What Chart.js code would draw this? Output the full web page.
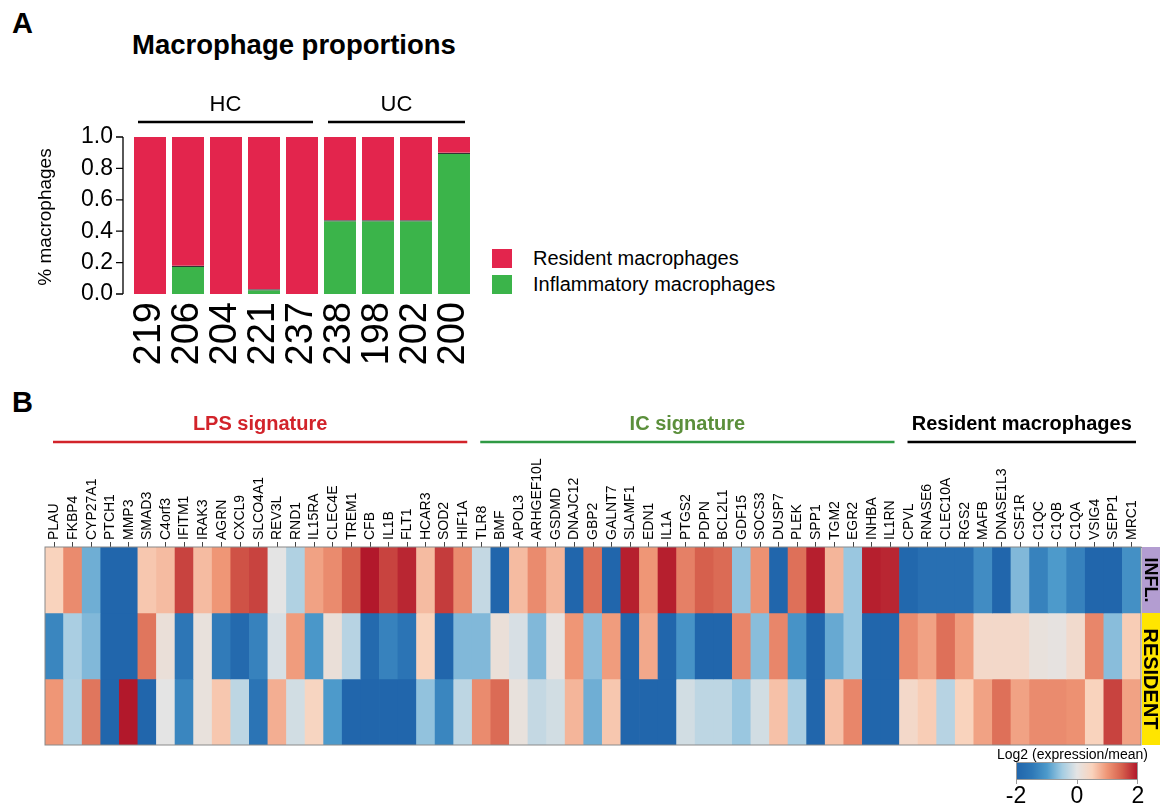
<!DOCTYPE html>
<html lang="en">
<head>
  <meta charset="UTF-8" />
  <title>Macrophage proportions and signature heatmap</title>
  <script src="https://cdn.jsdelivr.net/npm/chart.js"></script>
  <style>
    * { margin: 0; padding: 0; box-sizing: border-box; }
    body {
      width: 1160px;
      height: 806px;
      position: relative;
      overflow: hidden;
      background: #fff;
      color: #000;
      font-family: "Liberation Sans", Arial, sans-serif;
    }
    .abs { position: absolute; }
    .panel-letter { font-weight: bold; font-size: 29px; line-height: 1; }
    #titleA { left: 132px; top: 31px; font-size: 27.5px; font-weight: bold; line-height: 1; }
    #legendA { left: 492px; top: 245px; font-size: 20px; }
    .leg-item { display: flex; align-items: center; height: 26px; }
    .swatch { width: 20px; height: 19px; margin-right: 21px; }
    #cbLabel { left: 985px; top: 746px; width: 175px; text-align: center; font-size: 14px; }
    #colorbar { left: 1016px; top: 762px; width: 122px; height: 18px; border: 1px solid #999; }
    .cbtick { top: 784px; font-size: 23px; width: 40px; text-align: center; line-height: 1; }
    .cbmark { top: 780px; width: 1px; height: 4px; background: #999; }
  </style>
</head>
<body>
  <div class="abs panel-letter" style="left:12px; top:9px;">A</div>
  <div class="abs" id="titleA">Macrophage proportions</div>
  <canvas class="abs" id="barsA" width="480" height="380" style="left:0; top:0;"></canvas>
  <div class="abs" id="legendA"></div>

  <div class="abs panel-letter" style="left:12px; top:388px;">B</div>
  <canvas class="abs" id="heatmap" width="1160" height="372" style="left:0; top:380px;"></canvas>

  <div class="abs" id="cbLabel">Log2 (expression/mean)</div>
  <div class="abs" id="colorbar"></div>
  <div class="abs cbmark" style="left:1016px;"></div>
  <div class="abs cbmark" style="left:1077px;"></div>
  <div class="abs cbmark" style="left:1137px;"></div>
  <div class="abs cbtick" style="left:996px;">-2</div>
  <div class="abs cbtick" style="left:1057px;">0</div>
  <div class="abs cbtick" style="left:1118px;">2</div>

  <script>
    // ---- panel A data ----
    const samples = ['219', '206', '204', '221', '237', '238', '198', '202', '200'];
    const inflammatory = [0, 0.18, 0, 0.03, 0, 0.47, 0.47, 0.47, 0.9];
    const resident = [1, 0.82, 1, 0.97, 1, 0.53, 0.53, 0.53, 0.1];
    const yTickLabels = ['0.0', '0.2', '0.4', '0.6', '0.8', '1.0'];
    const sampleGroups = ['HC', 'UC'];
    const sampleGroupStart = [0, 5];
    const sampleGroupEnd = [4, 8];

    // ---- panel B data ----
    const genes = [
      'PLAU', 'FKBP4', 'CYP27A1', 'PTCH1', 'MMP3', 'SMAD3', 'C4orf3', 'IFITM1', 'IRAK3', 'AGRN', 'CXCL9', 'SLCO4A1',
      'REV3L', 'RND1', 'IL15RA', 'CLEC4E', 'TREM1', 'CFB', 'IL1B', 'FLT1', 'HCAR3', 'SOD2', 'HIF1A',
      'TLR8', 'BMF', 'APOL3', 'ARHGEF10L', 'GSDMD', 'DNAJC12', 'GBP2', 'GALNT7', 'SLAMF1', 'EDN1', 'IL1A', 'PTGS2',
      'PDPN', 'BCL2L1', 'GDF15', 'SOCS3', 'DUSP7', 'PLEK', 'SPP1', 'TGM2', 'EGR2', 'INHBA', 'IL1RN',
      'CPVL', 'RNASE6', 'CLEC10A', 'RGS2', 'MAFB', 'DNASE1L3', 'CSF1R', 'C1QC', 'C1QB', 'C1QA', 'VSIG4', 'SEPP1', 'MRC1'
    ];
    const inflRow = [
      0.5, 1.1, -0.8, -2, -2, 0.6, 0.7, 1.7, 0.7, 1.0, 1.6, 1.7, 0, -0.4, 0.9, 1.1, 1.5, 2, 1.7, 1.9, 0.7, 1.75, 1.1,
      -0.25, -2, 0.7, 1.1, 0.75, -2, 1.35, -2, 1.95, 1.0, 1.95, 1.2, 1.5, 1.4, -0.6, 1.05, -2, 1.35, 1.95, 0.75, -0.55, 1.95, 1.9,
      -1.95, -1.75, -1.75, -1.75, -1.2, -2, -0.7, -1.35, -1.0, -1.35, -2, -2, -1.15
    ];
    const residentRowA = [
      -1.3, -0.45, -0.7, -2, -2, 1.3, 0.15, -1.55, 0.1, -1.45, -1.9, -1.35, -0.1, 0.95, -1.05, 0.15, -0.35, -1.9, -1.35, -1.6, 0.5, -2, -0.7,
      -0.7, 0.15, -0.1, -0.7, 0.05, 1.0, -0.65, 0.95, -2, 0.85, -2, -1.1, -2, -2, 1.15, -0.65, 1.15, -1.1, -2, -0.85, -0.55, -2, -2,
      1.1, 0.9, 1.35, 0.95, 0.35, 0.35, 0.35, 0.1, 0.05, 0.3, 1.15, -0.65, 0.55
    ];
    const residentRowB = [
      1.0, -0.4, 1.3, -2, 2, -2, 0, -1.3, 0.1, 0.6, -0.3, -1.6, 0.8, -0.15, 0.45, -1.0, -2, -2, -2, -2, -0.6, -1.3, -0.3,
      1.1, 1.4, 0.1, -0.25, -0.15, 0.75, -0.8, 0.6, -2, -2, -2, -0.15, -0.3, -0.3, -0.55, -0.15, 0.65, -0.45, -2, 0.65, 1.15, -2, -2,
      0.35, 0.55, -0.35, 0.5, 0.9, 1.35, 0.9, 1.1, 1.1, 1.05, 0.5, 1.7, 0.9
    ];
    const geneGroups = ['LPS signature', 'IC signature', 'Resident macrophages'];
    const geneGroupStart = [0, 23, 46];
    const geneGroupEnd = [22, 45, 58];
    const geneGroupText = ['#d2232a', '#5b8f3b', '#000000'];
    const geneGroupLine = ['#d2232a', '#2f9a44', '#000000'];
    const rowGroups = ['INFL.', 'RESIDENT'];
    const rowGroupStart = [0, 1];
    const rowGroupEnd = [1, 3];
    const rowGroupColors = ['#b39dd1', '#ffe500'];

    // colour scale (-2 .. 2)
    const scaleValues = [-2, -1.5, -1, -0.5, 0, 0.5, 1, 1.5, 2];
    const scaleColours = ['#2166ac', '#2e78b7', '#4d9acb', '#a3cce2', '#e4e4e4', '#f9d3bd', '#ef9676', '#d6604d', '#b2182b'];

    const FONT = '"Liberation Sans", Arial, sans-serif';
    Chart.defaults.font.family = FONT;
    Chart.defaults.color = '#000';

    function hexToRgb(h) {
      const n = parseInt(h.slice(1), 16);
      return [(n >> 16) & 255, (n >> 8) & 255, n & 255];
    }

    function colourFor(v) {
      v = Math.max(-2, Math.min(2, v));
      let i = 0;
      while (i < scaleValues.length - 2 && v > scaleValues[i + 1]) i++;
      const t = (v - scaleValues[i]) / (scaleValues[i + 1] - scaleValues[i]);
      const a = hexToRgb(scaleColours[i]);
      const b = hexToRgb(scaleColours[i + 1]);
      const c = a.map((x, k) => Math.round(x + (b[k] - x) * t));
      return `rgb(${c[0]}, ${c[1]}, ${c[2]})`;
    }

    // legend + colour bar
    document.getElementById('legendA').innerHTML = `
      <div class="leg-item"><span class="swatch" style="background:#e3254d"></span>Resident macrophages</div>
      <div class="leg-item"><span class="swatch" style="background:#3bb44a"></span>Inflammatory macrophages</div>`;
    document.getElementById('colorbar').style.background =
      'linear-gradient(to right, ' +
      scaleColours.map((c, i) => `${c} ${(i / (scaleColours.length - 1)) * 100}%`).join(', ') + ')';

    // ---- panel A ----
    const panelAExtras = {
      id: 'panelAExtras',
      afterDraw(chart) {
        const { ctx, chartArea } = chart;
        const x = chart.scales.x;
        const y = chart.scales.y;
        ctx.save();
        // R-style y axis, set a little left of the bars
        const ax = chartArea.left - 8;
        ctx.strokeStyle = '#000';
        ctx.lineWidth = 1.3;
        ctx.beginPath();
        ctx.moveTo(ax, y.getPixelForValue(0));
        ctx.lineTo(ax, y.getPixelForValue(1));
        y.ticks.forEach((t) => {
          const py = y.getPixelForValue(t.value);
          ctx.moveTo(ax - 7, py);
          ctx.lineTo(ax, py);
        });
        ctx.stroke();

        // HC / UC brackets
        const pitch = x.getPixelForValue(1) - x.getPixelForValue(0);
        const half = pitch * 0.842 / 2;
        ctx.lineWidth = 2.5;
        ctx.font = '22px ' + FONT;
        ctx.textAlign = 'center';
        ctx.textBaseline = 'middle';
        ctx.fillStyle = '#000';
        sampleGroups.forEach((g, i) => {
          const x0 = x.getPixelForValue(sampleGroupStart[i]) - half + 4;
          const x1 = x.getPixelForValue(sampleGroupEnd[i]) + half - 5;
          ctx.beginPath();
          ctx.moveTo(x0, 122);
          ctx.lineTo(x1, 122);
          ctx.stroke();
          ctx.fillText(g, (x0 + x1) / 2, 105);
        });

        // y title
        ctx.translate(46, 217);
        ctx.rotate(-Math.PI / 2);
        ctx.font = '19px ' + FONT;
        ctx.fillText('% macrophages', 0, 0);
        ctx.restore();
      }
    };

    new Chart(document.getElementById('barsA'), {
      type: 'bar',
      data: {
        labels: samples,
        datasets: [
          {
            label: 'Inflammatory macrophages',
            data: inflammatory,
            backgroundColor: '#3bb44a',
            borderColor: '#333',
            borderWidth: { top: 1.2, left: 0, right: 0, bottom: 0 },
            borderSkipped: false,
            barPercentage: 0.842,
            categoryPercentage: 1
          },
          {
            label: 'Resident macrophages',
            data: resident,
            backgroundColor: '#e3254d',
            borderWidth: 0,
            barPercentage: 0.842,
            categoryPercentage: 1
          }
        ]
      },
      options: {
        responsive: false,
        animation: false,
        layout: { padding: { top: 137, right: 7, left: 0, bottom: 0 } },
        plugins: { legend: { display: false }, tooltip: { enabled: false } },
        scales: {
          x: {
            stacked: true,
            grid: { display: false, drawTicks: false },
            border: { display: false },
            ticks: { font: { size: 38 }, minRotation: 90, maxRotation: 90, autoSkip: false, padding: 8 },
            afterFit(scale) { scale.height = 86; scale.paddingLeft = 0; scale.paddingRight = 0; }
          },
          y: {
            stacked: true,
            min: 0,
            max: 1,
            grid: { display: false, drawTicks: false },
            border: { display: false },
            ticks: {
              stepSize: 0.2,
              autoSkip: false,
              padding: 18,
              font: { size: 23 },
              callback: (v, i) => yTickLabels[i]
            },
            afterFit(scale) { scale.width = 131; }
          }
        }
      },
      plugins: [panelAExtras]
    });

    // ---- panel B: heatmap as stacked unit bars ----
    const heatRows = [inflRow, residentRowA, residentRowB];

    const heatExtras = {
      id: 'heatExtras',
      afterDraw(chart) {
        const { ctx, chartArea } = chart;
        const x = chart.scales.x;
        const y = chart.scales.y;
        const colW = x.getPixelForValue(1) - x.getPixelForValue(0);
        ctx.save();

        // outline
        ctx.strokeStyle = '#8a8a8a';
        ctx.lineWidth = 1;
        ctx.strokeRect(chartArea.left, chartArea.top, chartArea.right - chartArea.left, chartArea.bottom - chartArea.top);

        // signature headers
        ctx.textAlign = 'center';
        ctx.textBaseline = 'middle';
        ctx.font = 'bold 20px ' + FONT;
        geneGroups.forEach((g, i) => {
          const x0 = x.getPixelForValue(geneGroupStart[i]) - colW / 2 + 8;
          const x1 = x.getPixelForValue(geneGroupEnd[i]) + colW / 2 - 5;
          ctx.strokeStyle = geneGroupLine[i];
          ctx.lineWidth = 2.5;
          ctx.beginPath();
          ctx.moveTo(x0, 62);
          ctx.lineTo(x1, 62);
          ctx.stroke();
          ctx.fillStyle = geneGroupText[i];
          ctx.fillText(g, (x0 + x1) / 2, 44);
        });

        // row annotation boxes
        rowGroups.forEach((g, i) => {
          const y0 = y.getPixelForValue(rowGroupStart[i]);
          const y1 = y.getPixelForValue(rowGroupEnd[i]);
          ctx.fillStyle = rowGroupColors[i];
          ctx.fillRect(chartArea.right + 1, y0, 18, y1 - y0);
          ctx.save();
          ctx.translate(chartArea.right + 10, (y0 + y1) / 2);
          ctx.rotate(Math.PI / 2);
          ctx.fillStyle = '#000';
          ctx.font = 'bold ' + (i === 0 ? 18 : 20) + 'px ' + FONT;
          ctx.fillText(g, 0, 1);
          ctx.restore();
        });
        ctx.restore();
      }
    };

    new Chart(document.getElementById('heatmap'), {
      type: 'bar',
      data: {
        labels: genes,
        datasets: heatRows.map((vals, r) => ({
          label: 'row ' + (r + 1),
          data: genes.map(() => 1),
          backgroundColor: vals.map(colourFor),
          borderWidth: 0,
          barPercentage: 1,
          categoryPercentage: 1
        }))
      },
      options: {
        responsive: false,
        animation: false,
        layout: { padding: { top: 0, right: 19, left: 45, bottom: 7 } },
        plugins: { legend: { display: false }, tooltip: { enabled: false } },
        scales: {
          x: {
            position: 'top',
            stacked: true,
            grid: { display: true, drawOnChartArea: false, offset: false, tickLength: 5, color: '#444' },
            border: { display: true, color: '#8a8a8a' },
            ticks: { font: { size: 14 }, minRotation: 90, maxRotation: 90, autoSkip: false, padding: 2, labelOffset: 17 },
            afterFit(scale) { scale.height = 167; scale.paddingLeft = 0; scale.paddingRight = 0; }
          },
          y: {
            stacked: true,
            reverse: true,
            min: 0,
            max: 3,
            display: false
          }
        }
      },
      plugins: [heatExtras]
    });
  </script>
</body>
</html>
